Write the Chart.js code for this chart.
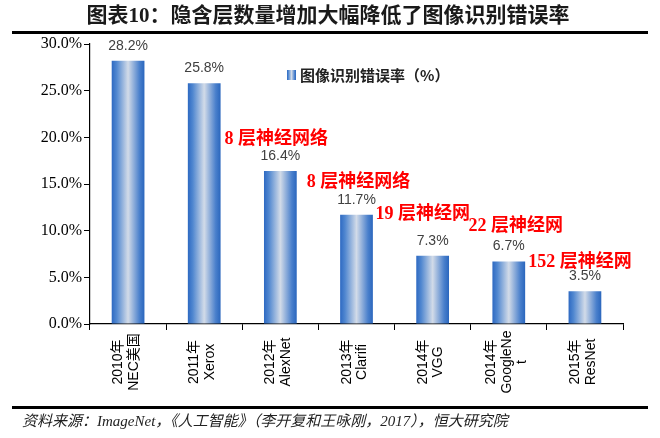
<!DOCTYPE html>
<html><head><meta charset="utf-8">
<script src="https://cdn.jsdelivr.net/npm/chart.js@4.4.0/dist/chart.umd.min.js"></script>
<style>html,body{margin:0;padding:0;background:#fff;}canvas{display:block;}</style>
</head><body>
<canvas id="c" width="660" height="438"></canvas>
<script>
const chartTitle = '图表10：隐含层数量增加大幅降低了图像识别错误率';
const sourceNote = '资料来源：ImageNet，《人工智能》（李开复和王咏刚，2017），恒大研究院';
const seriesName = '图像识别错误率（%）';
const categories = [['2010年','NEC美国'],['2011年','Xerox'],['2012年','AlexNet'],['2013年','Clarifi'],['2014年','VGG'],['2014年','GoogleNe','t'],['2015年','ResNet']];
const errorRates = [28.2, 25.8, 16.4, 11.7, 7.3, 6.7, 3.5];
const yTickValues = [0, 5, 10, 15, 20, 25, 30];
const layerNotes = [null, null, '8 层神经网络', '8 层神经网络', '19 层神经网', '22 层神经网', '152 层神经网'];

// layout / style (not data)
const BAR_PCT = 0.43;
const noteShift = [null, null, [-4,-17], [2,-17], [-10,-27], [7,-20], [-5,-14]];
const CJK = "'Noto Sans CJK SC'";

function barGradient(ctx, left, right) {
  const g = ctx.createLinearGradient(left, 0, right, 0);
  g.addColorStop(0, '#2d69c2');
  g.addColorStop(0.15, '#5087d0');
  g.addColorStop(0.5, '#d2dbe8');
  g.addColorStop(0.85, '#4a80cc');
  g.addColorStop(1, '#2a66bd');
  return g;
}

const decor = {
  id: 'decor',
  beforeDraw(chart) {
    const c = chart.ctx;
    c.save();
    c.fillStyle = '#fff';
    c.fillRect(0, 0, chart.width, chart.height);
    c.fillStyle = '#1a1a1a';
    c.font = "bold 21px 'Liberation Serif'," + CJK;
    c.textAlign = 'center';
    c.textBaseline = 'middle';
    c.fillText(chartTitle, 328, 17);
    c.fillStyle = '#000';
    c.fillRect(12, 31, 636, 3);
    c.fillRect(12, 406, 636, 3);
    c.fillStyle = '#222';
    c.font = "italic 15px 'Liberation Serif'," + CJK;
    c.textAlign = 'left';
    c.fillText(sourceNote, 22, 422);
    c.restore();
  },
  afterDraw(chart) {
    // category labels, rotated, centre-aligned lines
    const c = chart.ctx;
    const xs = chart.scales.x;
    const cy = xs.top + 38;
    const lh = 15.5;
    c.save();
    c.fillStyle = '#000';
    c.font = "14px 'Liberation Sans'," + CJK;
    c.textAlign = 'center';
    c.textBaseline = 'middle';
    categories.forEach((lines, i) => {
      const x = xs.getPixelForTick(i);
      c.save();
      c.translate(x, cy);
      c.rotate(-Math.PI / 2);
      lines.forEach((t, k) => {
        const off = (k - (lines.length - 1) / 2) * lh - 2;
        c.fillText(t, 0, off);
      });
      c.restore();
    });
    c.restore();
  },
  afterDatasetsDraw(chart) {
    const c = chart.ctx;
    const meta = chart.getDatasetMeta(0);
    const area = chart.chartArea;
    c.save();
    c.textAlign = 'center';
    c.textBaseline = 'middle';
    meta.data.forEach((bar, i) => {
      const ly = bar.y - 15;
      c.fillStyle = '#404040';
      c.font = "14px 'Liberation Sans'";
      c.fillText(errorRates[i].toFixed(1) + '%', bar.x, ly);
      if (layerNotes[i]) {
        const s = noteShift[i];
        c.fillStyle = '#ff0000';
        c.font = "bold 18px 'Liberation Serif'," + CJK;
        c.fillText(layerNotes[i], bar.x + s[0], ly + s[1]);
      }
    });
    // legend
    const lx = area.left + 197, ly = area.top + 31;
    c.fillStyle = barGradient(c, lx, lx + 9);
    c.fillRect(lx, ly - 5, 9, 10);
    c.fillStyle = '#222';
    c.textAlign = 'left';
    c.font = "bold 15px " + CJK;
    c.fillText(seriesName, lx + 13, ly);
    c.restore();
  }
};

new Chart(document.getElementById('c'), {
  type: 'bar',
  data: {
    labels: categories,
    datasets: [{
      label: seriesName,
      data: errorRates,
      borderWidth: 0,
      categoryPercentage: 1,
      barPercentage: BAR_PCT,
      backgroundColor: (ctx) => {
        const chart = ctx.chart;
        const xs = chart.scales && chart.scales.x;
        if (!xs || ctx.dataIndex === undefined || !chart.chartArea) return '#3a74c6';
        const cx = xs.getPixelForValue(ctx.dataIndex);
        const half = xs.width / categories.length * BAR_PCT / 2;
        return barGradient(chart.ctx, cx - half, cx + half);
      }
    }]
  },
  options: {
    responsive: false,
    animation: false,
    devicePixelRatio: 1,
    layout: { padding: { left: 0, right: 37, top: 44, bottom: 0 } },
    plugins: { legend: { display: false }, tooltip: { enabled: false }, title: { display: false } },
    scales: {
      x: {
        grid: { display: true, drawOnChartArea: false, drawTicks: true, tickLength: 6, color: '#000', offset: true },
        border: { color: '#000', width: 1.2 },
        ticks: { display: false, autoSkip: false },
        afterFit: (s) => { s.height = 114; }
      },
      y: {
        min: 0, max: 30,
        afterBuildTicks: (s) => { s.ticks = yTickValues.map(v => ({ value: v })); },
        grid: { drawOnChartArea: false, drawTicks: true, tickLength: 6, color: '#000' },
        border: { color: '#000', width: 1.2 },
        ticks: {
          color: '#000', padding: 2,
          font: { family: "'Liberation Serif'", size: 16 },
          callback: (v) => Number(v).toFixed(1) + '%'
        },
        afterFit: (s) => { s.width = 90; }
      }
    }
  },
  plugins: [decor]
});
</script>
</body></html>
